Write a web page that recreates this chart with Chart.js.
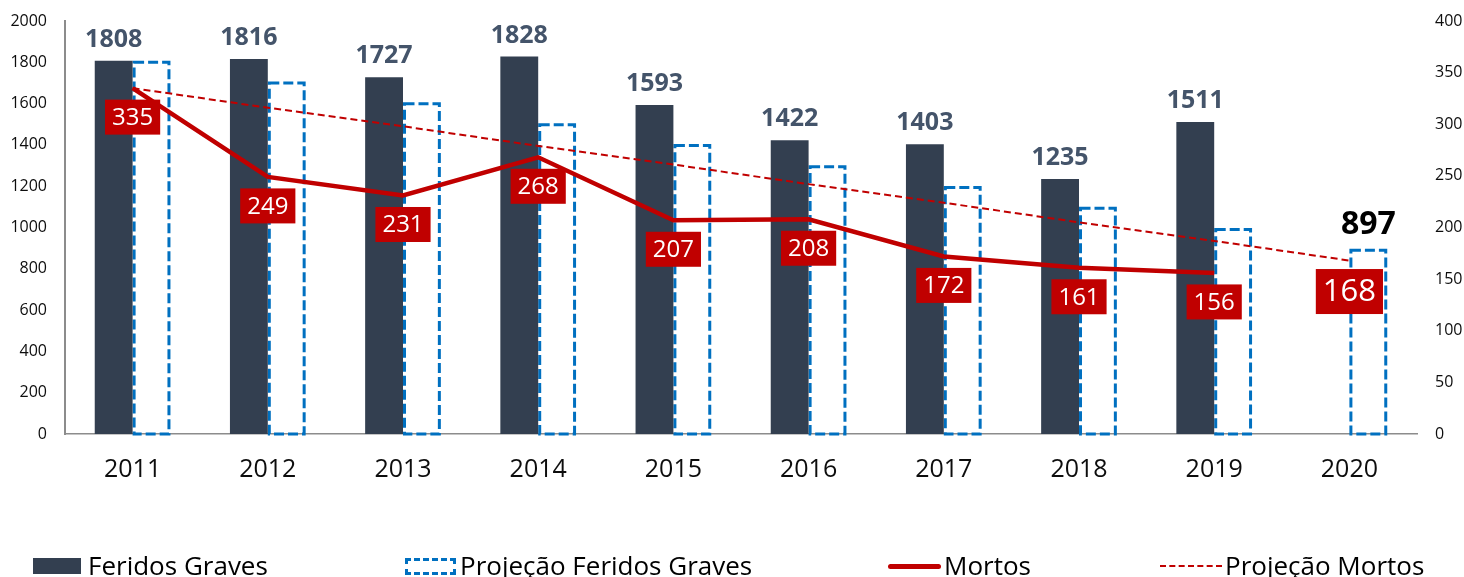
<!DOCTYPE html>
<html>
<head>
<meta charset="utf-8">
<script src="https://cdn.jsdelivr.net/npm/chart.js@4.4.1/dist/chart.umd.min.js"></script>
<style>
	body { margin: 0; background: #fff; font-family: 'Open Sans', sans-serif; }
	#wrap { position: relative; width: 1464px; height: 577px; overflow: hidden; }
	#legend { position: absolute; left: 0; top: 550px; width: 1464px; height: 30px; font-size: 26px; color: #000; }
	#legend .item { position: absolute; top: 0; height: 30px; line-height: 30px; white-space: nowrap; }
	#legend .sym { position: absolute; box-sizing: border-box; }
</style>
</head>
<body>
<div id="wrap">
	<canvas id="chart"></canvas>
	<div id="legend">
		<div class="item" style="left:33px"><span class="sym" style="left:0;top:8px;width:48px;height:16px;background:#333F50"></span><span style="margin-left:55px">Feridos Graves</span></div>
		<div class="item" style="left:405px"><span class="sym" style="left:0;top:8px;width:51px;height:17px;border:3px dashed #0070C0"></span><span style="margin-left:55px">Projeção Feridos Graves</span></div>
		<div class="item" style="left:888px"><span class="sym" style="left:0;top:14px;width:53px;height:5px;background:#C00000;border-radius:3px"></span><span style="margin-left:56px">Mortos</span></div>
		<div class="item" style="left:1160px"><span class="sym" style="left:0;top:15px;width:62px;height:0;border-top:2px dashed #C00000"></span><span style="margin-left:65px">Projeção Mortos</span></div>
	</div>
</div>
<script>
	'use strict'

	var years = ['2011', '2012', '2013', '2014', '2015', '2016', '2017', '2018', '2019', '2020'];
	var feridosGraves = [1808, 1816, 1727, 1828, 1593, 1422, 1403, 1235, 1511, null];
	var projFeridos = [1808, 1707, 1606, 1505, 1404, 1302, 1201, 1100, 998, 897];
	var mortos = [335, 249, 231, 268, 207, 208, 172, 161, 156, null];
	var projMortos = [335, 316, 298, 279, 261, 242, 224, 205, 187, 168];

	var FONT = "'Open Sans', sans-serif";

	/*----dashed outline for projection bars + labels----*/
	var markPlugin = {
		id: 'marks',
		afterDatasetDraw: function(chart, args) {
			if (args.index !== 1) return;
			var ctx = chart.ctx;
			ctx.save();
			ctx.strokeStyle = '#0070C0';
			ctx.lineWidth = 3;
			ctx.setLineDash([10, 4]);
			args.meta.data.forEach(function(bar) {
				var p = bar.getProps(['x', 'y', 'base', 'width'], true);
				ctx.strokeRect(p.x - p.width / 2 + 1.5, p.y + 1.5, p.width - 3, p.base - p.y - 1.5);
			});
			ctx.restore();
		},
		afterDatasetsDraw: function(chart) {
			var ctx = chart.ctx;
			ctx.save();
			ctx.textAlign = 'center';
			ctx.textBaseline = 'middle';

			// Feridos Graves values
			ctx.font = 'bold 25px ' + FONT;
			ctx.fillStyle = '#44546A';
			chart.getDatasetMeta(0).data.forEach(function(bar, i) {
				if (feridosGraves[i] == null) return;
				ctx.fillText(feridosGraves[i], bar.x, bar.y - 21);
			});

			// last projection value
			var pBar = chart.getDatasetMeta(1).data[years.length - 1];
			ctx.font = 'bold 32px ' + FONT;
			ctx.fillStyle = '#000';
			ctx.fillText(projFeridos[years.length - 1], pBar.x, pBar.y - 24);

			function box(txt, x, y, size, h) {
				ctx.font = size + 'px ' + FONT;
				var w = ctx.measureText(txt).width + 14;
				ctx.fillStyle = '#C00000';
				ctx.fillRect(x - w / 2, y - h / 2, w, h);
				ctx.fillStyle = '#fff';
				ctx.fillText(txt, x, y + 1);
			}

			chart.getDatasetMeta(2).data.forEach(function(pt, i) {
				if (mortos[i] == null) return;
				box(mortos[i], pt.x, pt.y + 29, 24, 35);
			});

			var last = chart.getDatasetMeta(3).data[years.length - 1];
			box(projMortos[years.length - 1], last.x, last.y + 31, 31, 45);

			ctx.restore();
		}
	};

	function plain(v) { return String(v); }

	var ctx = document.getElementById('chart');
	var myChart = new Chart(ctx, {
		type: 'bar',
		data: {
			labels: years,
			datasets: [
				{
					label: 'Feridos Graves',
					data: feridosGraves,
					backgroundColor: '#333F50',
					yAxisID: 'y',
					order: 2
				},
				{
					label: 'Projeção Feridos Graves',
					data: projFeridos,
					backgroundColor: 'rgba(255,255,255,0)',
					borderWidth: 0,
					yAxisID: 'y',
					order: 3
				},
				{
					type: 'line',
					label: 'Mortos',
					data: mortos,
					borderColor: '#C00000',
					borderWidth: 4.5,
					pointRadius: 0,
					tension: 0,
					yAxisID: 'y1',
					order: 1
				},
				{
					type: 'line',
					label: 'Projeção Mortos',
					data: projMortos,
					borderColor: '#C00000',
					borderWidth: 2,
					borderDash: [7, 4],
					pointRadius: 0,
					tension: 0,
					yAxisID: 'y1',
					order: 0
				}
			]
		},
		options: {
			responsive: true,
			maintainAspectRatio: false,
			animation: false,
			categoryPercentage: 0.56,
			barPercentage: 1,
			layout: {
				padding: { top: 21, left: 0, right: 0, bottom: 0 }
			},
			scales: {
				x: {
					grid: { display: false, drawTicks: false },
					border: { display: true, color: '#8c8c8c', width: 1.5 },
					ticks: { color: '#0d0d0d', font: { family: FONT, size: 25 }, padding: 21 },
					afterFit: function(scale) { scale.height = 143; }
				},
				y: {
					position: 'left',
					min: 0,
					max: 2000,
					grid: { display: false, drawTicks: false },
					border: { display: true, color: '#8c8c8c', width: 2 },
					ticks: { stepSize: 200, color: '#0d0d0d', font: { family: FONT, size: 16 }, padding: 18, callback: plain },
					afterFit: function(scale) { scale.width = 65; scale.paddingTop = 10; scale.paddingBottom = 10; }
				},
				y1: {
					position: 'right',
					min: 0,
					max: 400,
					grid: { display: false, drawTicks: false },
					border: { display: false },
					ticks: { stepSize: 50, color: '#0d0d0d', font: { family: FONT, size: 16 }, padding: 18, callback: plain },
					afterFit: function(scale) { scale.width = 47; scale.paddingTop = 10; scale.paddingBottom = 10; }
				}
			},
			plugins: {
				legend: { display: false },
				tooltip: { enabled: false }
			}
		},
		plugins: [markPlugin]
	});
</script>
</body>
</html>
